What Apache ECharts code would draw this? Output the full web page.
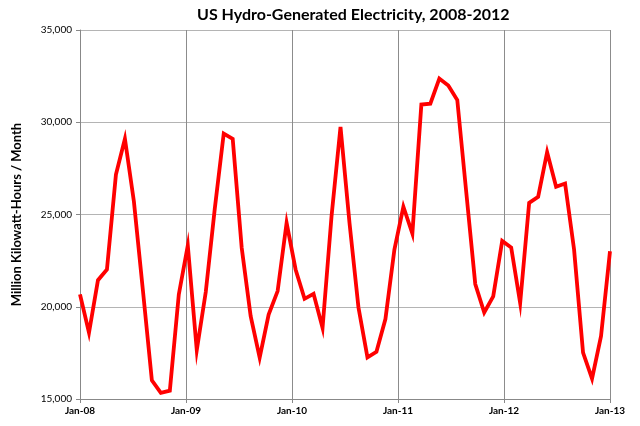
<!DOCTYPE html>
<html>
<head>
<meta charset="utf-8">
<script src="https://cdn.jsdelivr.net/npm/echarts@6/dist/echarts.min.js"></script>
<style>
html,body{margin:0;padding:0;background:#fff;}
#c{width:640px;height:426px;}
</style>
</head>
<body>
<div id="c"></div>
<script>
var titleText = 'US Hydro-Generated Electricity, 2008-2012';
var yAxisName = 'Million Kilowatt-Hours / Month';
var years = ['08', '09', '10', '11', '12'];
var monthNames = ['Jan','Feb','Mar','Apr','May','Jun','Jul','Aug','Sep','Oct','Nov','Dec'];
var yearTickLabels = ['Jan-08', 'Jan-09', 'Jan-10', 'Jan-11', 'Jan-12', 'Jan-13'];
var yTicks = [15000, 20000, 25000, 30000, 35000];

var hydro2008 = [20670, 18590, 21440, 22020, 27170, 29100, 25700, 20900, 16010, 15330, 15450, 20670];
var hydro2009 = [23320, 17650, 20800, 25300, 29390, 29100, 23200, 19490, 17240, 19580, 20850, 24550];
var hydro2010 = [22020, 20430, 20700, 18860, 24900, 29750, 24550, 19960, 17260, 17560, 19330, 23100];
var hydro2011 = [25420, 23970, 30960, 31010, 32370, 31990, 31200, 26200, 21230, 19690, 20560, 23570];
var hydro2012 = [23210, 20200, 25630, 25960, 28380, 26500, 26680, 23100, 17510, 16100, 18410, 23010];

var monthCats = [];
years.forEach(function (y) { monthNames.forEach(function (m) { monthCats.push(m + '-' + y); }); });
var values = [].concat(hydro2008, hydro2009, hydro2010, hydro2011, hydro2012);

var chart = echarts.init(document.getElementById('c'), null, {renderer: 'canvas'});
var font = 'Lato, "Liberation Sans", sans-serif';
chart.setOption({
  animation: false,
  backgroundColor: '#ffffff',
  title: {
    text: titleText,
    left: 192, top: 2,
    textStyle: {fontFamily: font, fontSize: 16, fontWeight: 'bold', color: '#000'}
  },
  grid: {left: 80, right: 30, top: 30, bottom: 27, containLabel: false},
  xAxis: [
    {
      type: 'category', data: monthCats, boundaryGap: false, show: false
    },
    {
      type: 'category', data: yearTickLabels, boundaryGap: false, position: 'bottom',
      axisLine: {show: true, lineStyle: {color: '#888', width: 1}},
      axisTick: {show: true, length: 4, inside: false, lineStyle: {color: '#888'}, interval: 0},
      axisLabel: {interval: 0, fontFamily: font, fontSize: 10, color: '#000', margin: 7, fontWeight: 'bold',
        showMinLabel: true, showMaxLabel: true, hideOverlap: false},
      splitLine: {show: true, interval: 0, lineStyle: {color: '#8c8c8c', width: 1}}
    }
  ],
  yAxis: {
    type: 'value', min: 15000, max: 35000, interval: 5000,
    name: yAxisName, nameLocation: 'middle', nameGap: 57, nameRotate: 90,
    nameTextStyle: {fontFamily: font, fontSize: 13, fontWeight: 'bold', color: '#000'},
    axisLine: {show: true, lineStyle: {color: '#888', width: 1}},
    axisTick: {show: true, length: 4, lineStyle: {color: '#888'}},
    axisLabel: {fontFamily: font, fontSize: 10, color: '#000', margin: 8,
      formatter: function (v) { return v.toString().replace(/\B(?=(\d{3})+(?!\d))/g, ','); }},
    splitLine: {show: true, lineStyle: {color: '#b4b4b4', width: 1}}
  },
  series: [{
    type: 'line', xAxisIndex: 0, data: values, showSymbol: false, symbol: 'none',
    lineStyle: {color: '#ff0000', width: 3.8, join: 'miter'},
    itemStyle: {color: '#ff0000'}
  }]
});
</script>
</body>
</html>
